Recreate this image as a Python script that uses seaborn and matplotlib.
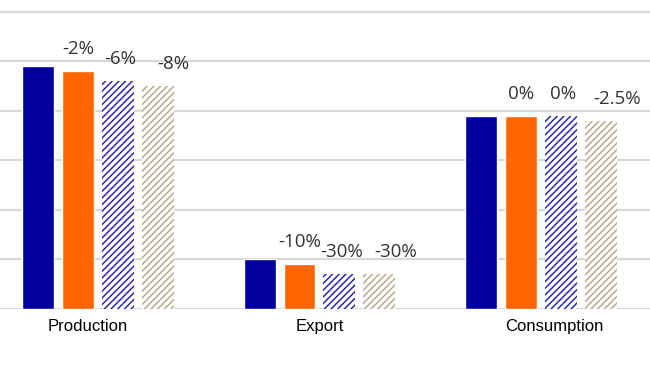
import pandas as pd
import numpy as np
import matplotlib
matplotlib.use("Agg")
import matplotlib.pyplot as plt
import matplotlib.transforms as mtransforms
import seaborn as sns

# data (gridline = 10 units)
categories = ["Production", "Export", "Consumption"]
series = ["Base", "Scenario A", "Scenario B", "Scenario C"]
base = [49, 10, 39]
scen_a = [48, 9, 39]
scen_b = [46, 7, 39]
scen_c = [45, 7, 38]
changes_a = ["-2%", "-10%", "0%"]
changes_b = ["-6%", "-30%", "0%"]
changes_c = ["-8%", "-30%", "-2.5%"]

colors = ["#00009C", "#FF6600", "#2B2BA8", "#B5AC8E"]

rows = []
for s, vals in zip(series, [base, scen_a, scen_b, scen_c]):
    for c, v in zip(categories, vals):
        rows.append({"category": c, "series": s, "value": v})
df = pd.DataFrame(rows)

sns.set_style("white")
plt.rcParams["hatch.linewidth"] = 1.1

fig = plt.figure(figsize=(6.5, 3.66), dpi=100)
ax = fig.add_axes([0, 0.156, 1, 0.844])

sns.barplot(data=df, x="category", y="value", hue="series", palette=colors,
            width=0.72, gap=0.2, saturation=1, legend=False, ax=ax)

# hatched scenarios: white fill, coloured diagonal lines
for i in (2, 3):
    for bar in ax.containers[i]:
        bar.set_facecolor("white")
        bar.set_edgecolor(colors[i])
        bar.set_hatch("/////")
        bar.set_linewidth(0)

# change labels above bars (last series sits a little to the right in the original)
label_dx = {1: 0, 2: 2, 3: 16}
for i, labels in zip((1, 2, 3), (changes_a, changes_b, changes_c)):
    for bar, lab in zip(ax.containers[i], labels):
        ax.annotate(lab, (bar.get_x() + bar.get_width() / 2, bar.get_height()),
                    xytext=(label_dx[i], 22), textcoords="offset pixels", ha="center",
                    va="center", fontsize=13.5, color="#333333", family="Open Sans")

ax.set_ylim(0, 62.4)
ax.set_xlim(-0.442, 2.492)
ax.set_yticks(np.arange(0, 61, 10))
ax.set_yticklabels([])
ax.yaxis.grid(True, color="#d9d9d9", linewidth=1.6)
ax.set_axisbelow(True)
for sp in ax.spines.values():
    sp.set_visible(False)
ax.set_xlabel("")
ax.set_ylabel("")
ax.tick_params(axis="both", length=0)
ax.tick_params(axis="x", pad=7)
for lab in ax.get_xticklabels():
    lab.set_fontfamily("Liberation Sans")
    lab.set_fontsize(12)
    lab.set_color("black")

# category labels in the reference sit a bit off the group centres
shifts = [-10, 0, 13]
for lab, dx in zip(ax.get_xticklabels(), shifts):
    lab.set_transform(lab.get_transform() + mtransforms.ScaledTranslation(dx / 100, 0, fig.dpi_scale_trans))

fig.savefig("out.png", dpi=100, facecolor="white")
